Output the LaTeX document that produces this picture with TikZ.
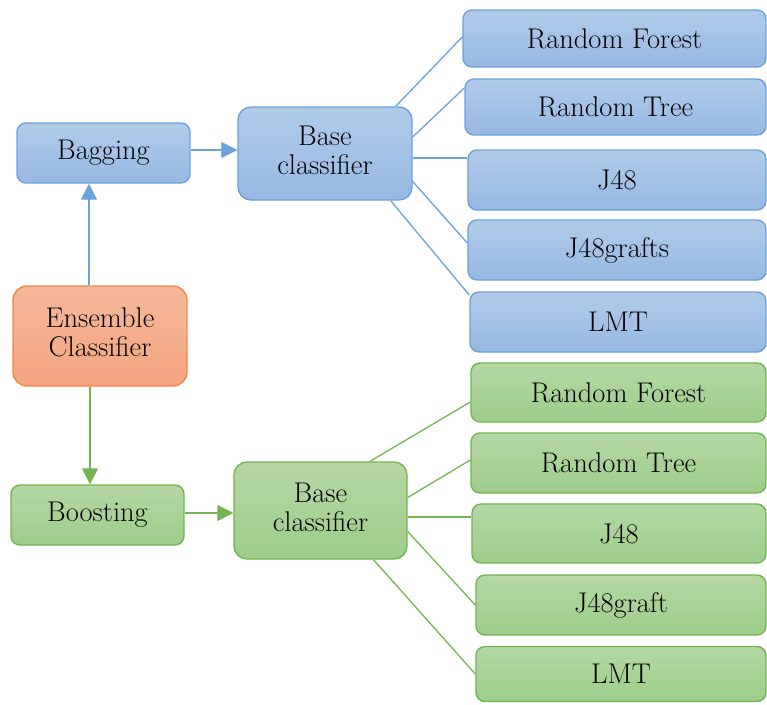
\documentclass[tikz,border=0pt]{standalone}
\usepackage{fontspec}
\usetikzlibrary{arrows.meta,calc}
\definecolor{bfillT}{HTML}{B2CBEA}
\definecolor{bfillB}{HTML}{96B8E2}
\definecolor{bline}{HTML}{6CA2DA}
\definecolor{gfillT}{HTML}{B5D8A5}
\definecolor{gfillB}{HTML}{9ECC8A}
\definecolor{gline}{HTML}{72B552}
\definecolor{ofillT}{HTML}{F6B89B}
\definecolor{ofillB}{HTML}{F3A47E}
\definecolor{oline}{HTML}{EE8A45}
\begin{document}
\begin{tikzpicture}[x=1pt,y=-1pt,
  box/.style={rectangle,rounded corners=9pt,line width=1.4pt,inner sep=0pt,
    font=\rmfamily\fontsize{28.5}{32}\selectfont},
  bluebox/.style={box,draw=bline,top color=bfillT,bottom color=bfillB},
  greenbox/.style={box,draw=gline,top color=gfillT,bottom color=gfillB},
  orangebox/.style={box,draw=oline,top color=ofillT,bottom color=ofillB},
  bconn/.style={draw=bline,line width=1.3pt},
  gconn/.style={draw=gline,line width=1.3pt},
  barr/.style={bconn,-{Triangle[length=16pt,width=16pt]}},
  garr/.style={gconn,-{Triangle[length=16pt,width=16pt]}}]
\useasboundingbox (0,0) rectangle (767,704);

% left column
\node[bluebox,minimum width=173pt,minimum height=60pt] (bag) at (103.5,153) {Bagging};
\node[bluebox,minimum width=174pt,minimum height=93pt,rounded corners=13pt] (bb) at (325,153.5)
  {\begin{tabular}{@{}c@{}}Base\\[-3pt]classifier\end{tabular}};
\node[orangebox,minimum width=174pt,minimum height=100pt,rounded corners=14pt] (ens) at (100,336)
  {\begin{tabular}{@{}c@{}}Ensemble\\[-3pt]Classifier\end{tabular}};
\node[greenbox,minimum width=173pt,minimum height=60pt] (boo) at (97.5,515) {Boosting};
\node[greenbox,minimum width=173pt,minimum height=97pt,rounded corners=13pt] (gb) at (320.5,510.5)
  {\begin{tabular}{@{}c@{}}Base\\[-3pt]classifier\end{tabular}};

% blue right column
\node[bluebox,minimum width=303pt,minimum height=57pt] (b1) at (614.5,38.5) {Random Forest};
\node[bluebox,minimum width=301pt,minimum height=56pt] (b2) at (615.5,107) {Random Tree};
\node[bluebox,minimum width=298pt,minimum height=60pt] (b3) at (617,180) {J48};
\node[bluebox,minimum width=298pt,minimum height=60pt] (b4) at (617,250) {J48grafts};
\node[bluebox,minimum width=296pt,minimum height=60pt] (b5) at (618,322) {LMT};

% green right column
\node[greenbox,minimum width=295pt,minimum height=59pt] (g1) at (618.5,392.5) {Random Forest};
\node[greenbox,minimum width=295pt,minimum height=60pt] (g2) at (618.5,463) {Random Tree};
\node[greenbox,minimum width=294pt,minimum height=59pt] (g3) at (619,533.5) {J48};
\node[greenbox,minimum width=290pt,minimum height=60pt] (g4) at (621,605) {J48graft};
\node[greenbox,minimum width=290pt,minimum height=55pt] (g5) at (621,674) {LMT};

% arrows
\draw[barr] ([xshift=-11pt]ens.north) -- ([xshift=-11pt]ens.north |- bag.south);
\draw[barr] ([yshift=3pt]bag.east) -- ([yshift=3pt]bag.east -| bb.west);
\draw[garr] ([xshift=-10pt]ens.south) -- ([xshift=-10pt]ens.south |- boo.north);
\draw[garr] ([yshift=2pt]boo.east) -- ([yshift=2pt]boo.east -| gb.west);

% blue connectors
\draw[bconn] ($(bb.north east)+(-17,0)$) -- ($(b1.west)+(0,-1.5)$);
\draw[bconn] ($(bb.east)+(0,-16.5)$) -- ($(b2.west)+(0,-19)$);
\draw[bconn] ($(bb.east)+(0,4.5)$) -- ($(b3.west)+(0,-22)$);
\draw[bconn] ($(bb.east)+(0,28)$) -- ($(b4.west)+(0,-7)$);
\draw[bconn] ($(bb.south east)+(-22,0)$) -- ($(b5.west)+(0,-27)$);

% green connectors
\draw[gconn] ($(gb.north)+(49.5,0)$) -- ($(g1.west)+(0,9.5)$);
\draw[gconn] ($(gb.east)+(0,-13)$) -- ($(g2.west)+(0,-3)$);
\draw[gconn] ($(gb.east)+(0,6.5)$) -- ($(g3.west)+(0,-16.5)$);
\draw[gconn] ($(gb.east)+(0,21)$) -- (g4.west);
\draw[gconn] ($(gb.south)+(53,0)$) -- (g5.west);
\end{tikzpicture}
\end{document}
